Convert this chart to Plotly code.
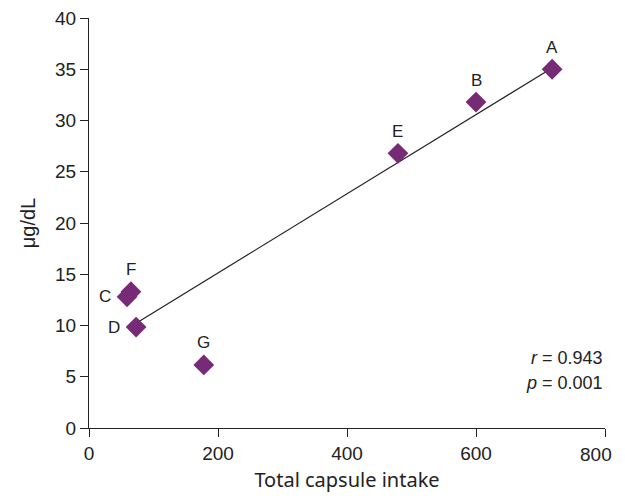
import numpy as np
import plotly.graph_objects as go

labels = ["A", "B", "E", "F", "C", "D", "G"]
intake = [718, 600, 479, 65, 59, 73, 178]
level = [35.0, 31.8, 26.8, 13.3, 12.8, 9.85, 6.15]
label_side = ["top", "top", "top", "top", "left", "left", "top"]
x_ticks = [0, 200, 400, 600, 800]
x_tick_labels = ["0", "200", "400", "600", "800"]
y_ticks = [0, 5, 10, 15, 20, 25, 30, 35, 40]
r_text = "0.943"
p_text = "0.001"

slope, intercept = np.polyfit(intake, level, 1)
line_x = np.array([73, 718])
line_y = slope * line_x + intercept

purple = "#772a76"
font = "Liberation Sans, Arial, sans-serif"
dark = "#222222"

fig = go.Figure()
fig.add_trace(go.Scatter(x=line_x, y=line_y, mode="lines",
                         line=dict(color=dark, width=1.2), showlegend=False))
fig.add_trace(go.Scatter(x=intake, y=level, mode="markers",
                         marker=dict(symbol="diamond", size=16, color=purple),
                         showlegend=False, cliponaxis=False))

for lab, xv, yv, side in zip(labels, intake, level, label_side):
    if side == "top":
        fig.add_annotation(x=xv, y=yv, text=lab, showarrow=False, yshift=22,
                           font=dict(family=font, size=17, color=dark))
    else:
        fig.add_annotation(x=xv, y=yv, text=lab, showarrow=False, xshift=-22,
                           font=dict(family=font, size=17, color=dark))

fig.add_annotation(x=1.0, y=0.171, xref="paper", yref="paper", xanchor="right",
                   yanchor="middle", showarrow=False,
                   text=f"<i>r</i> = {r_text}", font=dict(family=font, size=18, color=dark))
fig.add_annotation(x=1.0, y=0.110, xref="paper", yref="paper", xanchor="right",
                   yanchor="middle", showarrow=False,
                   text=f"<i>p</i> = {p_text}", font=dict(family=font, size=18, color=dark))

# last x tick label placed so it stays fully inside the page
shown_ticktext = x_tick_labels[:-1] + [""]
fig.add_annotation(x=x_ticks[-1], y=0, xref="x", yref="paper", xanchor="right",
                   yanchor="top", xshift=9, yshift=-14, showarrow=False,
                   text=x_tick_labels[-1], font=dict(family=font, size=19, color=dark))

fig.update_layout(
    width=617, height=485,
    margin=dict(l=81, r=20, t=10, b=65),
    plot_bgcolor="white", paper_bgcolor="white",
    font=dict(family=font, size=19, color=dark),
)
fig.update_xaxes(range=[0, 800], tickvals=x_ticks, ticktext=shown_ticktext,
                 showgrid=False, zeroline=False,
                 showline=True, linecolor=dark, linewidth=1, automargin=False,
                 ticks="outside", ticklen=8, tickcolor=dark,
                 tickfont=dict(size=19), ticklabeloverflow="allow",
                 title=dict(text="Total capsule intake",
                            font=dict(family="Noto Sans, sans-serif", size=20), standoff=11))
fig.update_yaxes(range=[0, 40], tickvals=y_ticks, showgrid=False, zeroline=False,
                 showline=True, linecolor=dark, linewidth=1, automargin=False,
                 ticks="outside", ticklen=8, tickcolor=dark,
                 tickfont=dict(size=19), ticklabeloverflow="allow",
                 title=dict(text="μg/dL", font=dict(size=20), standoff=14))

fig.write_html("out.html")
